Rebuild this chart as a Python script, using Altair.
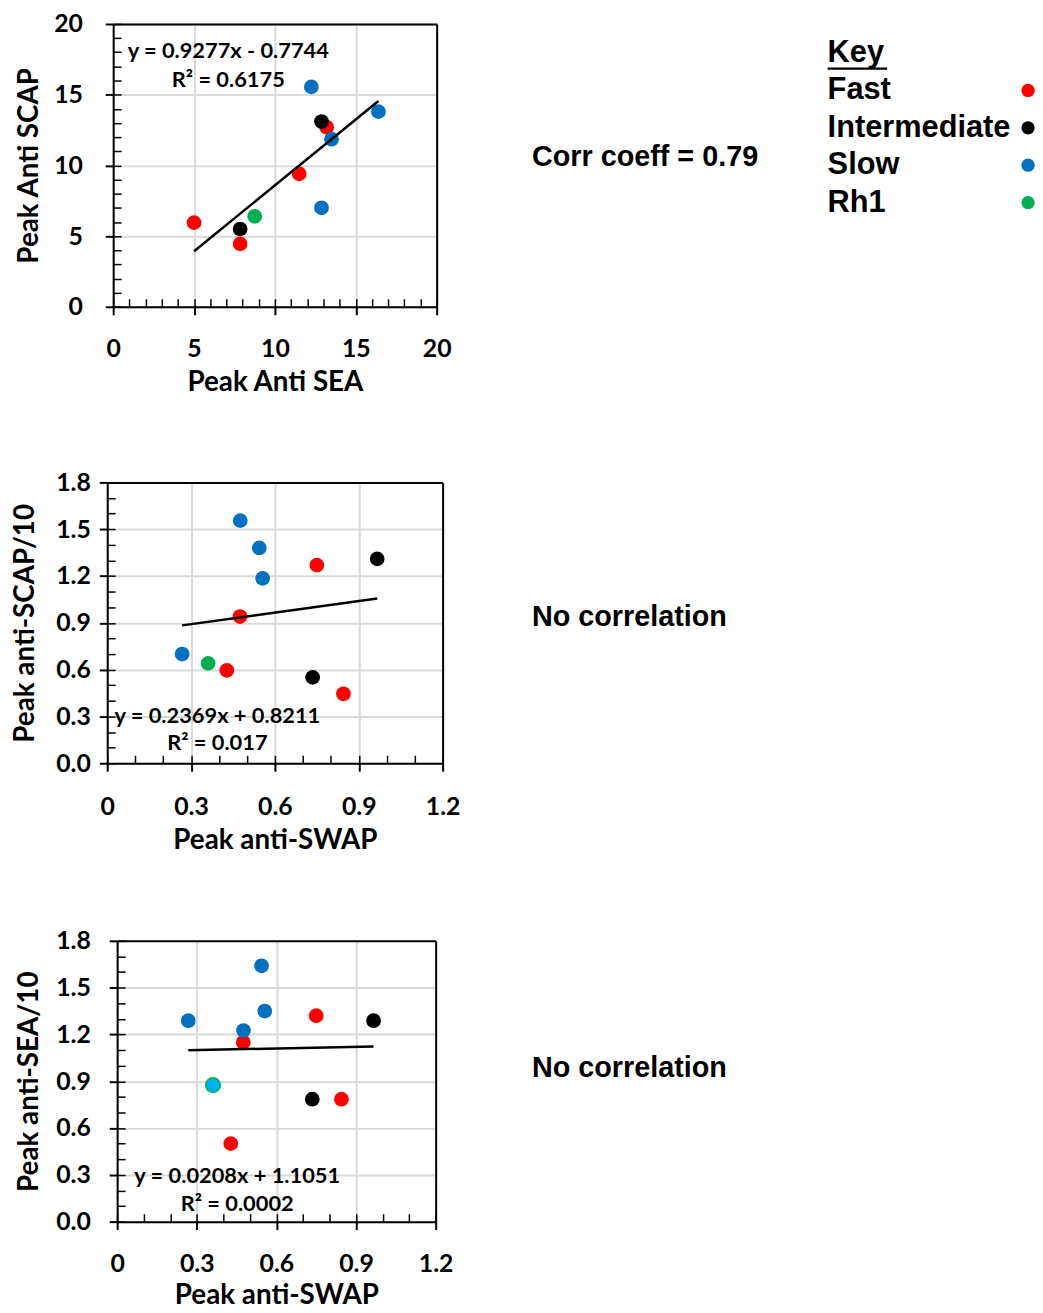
import altair as alt
import pandas as pd

# ---------------- data ----------------
group = ["Fast", "Fast", "Fast", "Fast", "Intermediate", "Intermediate",
         "Slow", "Slow", "Slow", "Slow", "Rh1"]
peak_anti_sea = [5.0, 7.85, 11.5, 13.2, 7.85, 12.88, 12.25, 16.4, 13.5, 12.88, 8.75]
peak_anti_scap = [5.95, 4.45, 9.4, 12.7, 5.5, 13.1, 15.55, 13.8, 11.85, 7.0, 6.4]
peak_anti_swap = [0.428, 0.845, 0.475, 0.75, 0.735, 0.966, 0.476, 0.544, 0.556, 0.268, 0.361]

key_labels = ["Fast", "Intermediate", "Slow", "Rh1"]
key_colors = ["#FF0000", "#000000", "#0070C0", "#00B050"]
key_colors_p3 = ["#FF0000", "#000000", "#0070C0", "#00B0F0"]
rh1_ring = "#00B050"

ticks_20 = [0, 5, 10, 15, 20]
minor_20 = [0, 1, 2, 3, 4, 5, 6, 7, 8, 9, 10, 11, 12, 13, 14, 15, 16, 17, 18, 19, 20]
ticks_12 = [0, 0.3, 0.6, 0.9, 1.2]
minor_12 = [0, 0.1, 0.2, 0.3, 0.4, 0.5, 0.6, 0.7, 0.8, 0.9, 1.0, 1.1, 1.2]
ticks_18 = [0, 0.3, 0.6, 0.9, 1.2, 1.5, 1.8]
minor_18 = [0, 0.1, 0.2, 0.3, 0.4, 0.5, 0.6, 0.7, 0.8, 0.9, 1.0, 1.1, 1.2,
            1.3, 1.4, 1.5, 1.6, 1.7, 1.8]

equations = [["y = 0.9277x - 0.7744", "R² = 0.6175"],
             ["y = 0.2369x + 0.8211", "R² = 0.017"],
             ["y = 0.0208x + 1.1051", "R² = 0.0002"]]
side_texts = ["Corr coeff = 0.79", "No correlation", "No correlation"]

df = pd.DataFrame({"group": group, "sea": peak_anti_sea,
                   "scap": peak_anti_scap, "swap": peak_anti_swap})

FONT = "Lato"
SFONT = "Liberation Sans"
LAB = 25
TIT = 28
DOT = 220


def text_layer(txt, x, y, font, size, align="center"):
    return alt.Chart(pd.DataFrame({"t": [txt]})).mark_text(
        font=font, fontSize=size, fontWeight="bold", color="black",
        align=align, baseline="middle").encode(
        x=alt.value(x), y=alt.value(y), text="t:N")


def panel(xf, yf, xdom, ydom, xmaj, ymaj, xmin, ymin, dx, w, h,
          xtitle, ytitle, xexpr, yexpr, ylabpad, ytitlex, xlabpad, xtitley,
          fills, ring, eq, eqx, eqy, side, sidex, sidey, calc):
    xs = alt.Scale(domain=xdom, range=[dx, dx + w], nice=False, zero=False)
    ys = alt.Scale(domain=ydom, nice=False, zero=False)
    base = alt.Chart(df).transform_calculate(**calc)

    main_x = alt.Axis(orient="bottom", values=xmaj, tickSize=8, tickWidth=2,
                      tickColor="black", domainColor="black", domainWidth=2,
                      grid=True, gridColor="#d9d9d9", gridWidth=2,
                      labelExpr=xexpr, labelFont=FONT, labelFontSize=LAB,
                      labelFontWeight="bold", labelColor="black",
                      labelPadding=xlabpad, labelFlush=False, labelOverlap=False,
                      title=xtitle, titleFont=FONT, titleFontSize=TIT,
                      titleFontWeight="bold", titleColor="black",
                      titleBaseline="alphabetic", titleY=xtitley)
    main_y = alt.Axis(orient="left", offset=-dx, values=ymaj, tickSize=8, tickWidth=2,
                      tickColor="black", domainColor="black", domainWidth=2,
                      grid=True, gridColor="#d9d9d9", gridWidth=2,
                      labelExpr=yexpr, labelFont=FONT, labelFontSize=LAB,
                      labelFontWeight="bold", labelColor="black",
                      labelPadding=ylabpad, labelFlush=False, labelOverlap=False,
                      title=ytitle, titleFont=FONT, titleFontSize=TIT,
                      titleFontWeight="bold", titleColor="black",
                      titleBaseline="alphabetic", titleX=ytitlex)
    points = base.mark_circle(size=DOT, opacity=1).encode(
        x=alt.X(f"{xf}:Q", scale=xs, axis=main_x),
        y=alt.Y(f"{yf}:Q", scale=ys, axis=main_y),
        color=alt.Color("group:N", scale=alt.Scale(domain=key_labels, range=fills),
                        legend=None))
    inner = base.mark_circle(opacity=0).encode(
        x=alt.X(f"{xf}:Q", scale=xs,
                axis=alt.Axis(orient="bottom", offset=-8, values=xmin, tickSize=8,
                              tickWidth=1.5, tickColor="black", domain=False,
                              labels=False, grid=False, title=None)),
        y=alt.Y(f"{yf}:Q", scale=ys,
                axis=alt.Axis(orient="left", offset=-(dx + 8), values=ymin, tickSize=8,
                              tickWidth=1.5, tickColor="black", domain=False,
                              labels=False, grid=False, title=None)))
    border = base.mark_circle(opacity=0).encode(
        x=alt.X(f"{xf}:Q", scale=xs,
                axis=alt.Axis(orient="top", ticks=False, labels=False, grid=False,
                              domainColor="black", domainWidth=2, title=None)),
        y=alt.Y(f"{yf}:Q", scale=ys,
                axis=alt.Axis(orient="right", ticks=False, labels=False, grid=False,
                              domainColor="black", domainWidth=2, title=None)))
    reg = base.transform_regression(xf, yf).mark_line(
        color="black", strokeWidth=2.5).encode(
        x=alt.X(f"{xf}:Q", scale=xs, axis=None),
        y=alt.Y(f"{yf}:Q", scale=ys, axis=None))
    layers = [points]
    if ring:
        layers.append(base.transform_filter(alt.datum.group == "Rh1").mark_point(
            shape="circle", filled=False, size=215, strokeWidth=1.6,
            color=rh1_ring, opacity=1).encode(
            x=alt.X(f"{xf}:Q", scale=xs, axis=None),
            y=alt.Y(f"{yf}:Q", scale=ys, axis=None)))
    layers += [reg, inner, border,
               text_layer(eq[0], eqx, eqy[0], FONT, 22),
               text_layer(eq[1], eqx, eqy[1], FONT, 22),
               text_layer(side, sidex, sidey, SFONT, 29, align="left")]
    return alt.layer(*layers).resolve_axis(x="independent", y="independent")


lab20 = "format(datum.value, 'd')"
lab0 = "datum.value == 0 ? '0' : format(datum.value, '.1f')"
lab1 = "format(datum.value, '.1f')"

p1 = panel("sea", "scap", [0, 20], [0, 20], ticks_20, ticks_20, minor_20, minor_20,
           6, 326, 285, "Peak Anti SEA", "Peak Anti SCAP", lab20, lab20,
           23, -76, 22, 84, key_colors, False, equations[0], 122, [27, 57],
           side_texts[0], 428, 134, {"dummy": "1"})

key_pts = alt.Chart(pd.DataFrame({"label": key_labels})).mark_circle(
    size=180, opacity=1).encode(
    x=alt.value(928),
    y=alt.Y("label:N", sort=key_labels,
            scale=alt.Scale(type="point", domain=key_labels, range=[67, 180], padding=0),
            axis=None),
    color=alt.Color("label:N", scale=alt.Scale(domain=key_labels, range=key_colors),
                    legend=None))
key_txt = alt.Chart(pd.DataFrame({"label": key_labels})).mark_text(
    font=SFONT, fontSize=31, fontWeight="bold", color="black", align="left",
    baseline="middle").encode(
    x=alt.value(726),
    y=alt.Y("label:N", sort=key_labels,
            scale=alt.Scale(type="point", domain=key_labels, range=[67, 180], padding=0),
            axis=None),
    text="label:N")
key_head = text_layer("Key", 726, 29, SFONT, 31, align="left")
key_line = alt.Chart(pd.DataFrame({"a": [0]})).mark_rule(
    color="black", strokeWidth=2.5).encode(
    x=alt.value(726), x2=alt.value(786), y=alt.value(45))
key = alt.layer(key_pts, key_txt, key_head, key_line)

row1 = alt.layer(p1, key).resolve_scale(y="independent", color="independent").properties(
    width=332, height=285)

row2 = panel("swap", "scap10", [0, 1.2], [0, 1.8], ticks_12, ticks_18, minor_12, minor_18,
             0, 338, 283, "Peak anti-SWAP", "Peak anti-SCAP/10", lab0, lab1,
             9, -74, 24, 86, key_colors, False, equations[1], 111, [235, 263],
             side_texts[1], 428, 136, {"scap10": "datum.scap / 10"}).properties(
    width=338, height=283)

row3 = panel("swap", "sea10", [0, 1.2], [0, 1.8], ticks_12, ticks_18, minor_12, minor_18,
             10, 321, 283, "Peak anti-SWAP", "Peak anti-SEA/10", lab0, lab1,
             19, -80, 22, 82, key_colors_p3, True, equations[2], 131, [237, 265],
             side_texts[2], 428, 128, {"sea10": "datum.sea / 10"}).properties(
    width=331, height=283)

chart = alt.vconcat(row1, row2, row3, spacing=75).resolve_scale(
    color="independent"
).properties(
    padding={"left": 3, "top": -1, "right": 0, "bottom": 5}
).configure_view(stroke=None)

chart.save("out.html", embed_options={"renderer": "svg", "actions": False})
